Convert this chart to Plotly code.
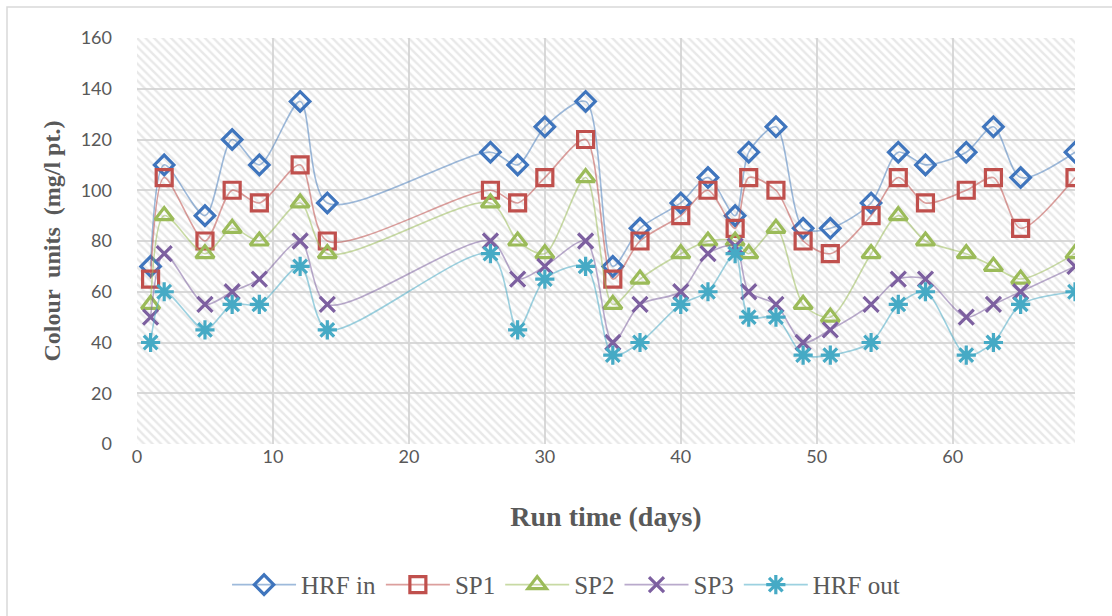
import plotly.graph_objects as go

# Sampling days
days = [1, 2, 5, 7, 9, 12, 14, 26, 28, 30, 33, 35, 37, 40, 42, 44, 45, 47, 49, 51, 54, 56, 58, 61, 63, 65, 69]

# Colour units (mg/l pt.) at each stage
hrf_in = [70, 110, 90, 120, 110, 135, 95, 115, 110, 125, 135, 70, 85, 95, 105, 90, 115, 125, 85, 85, 95, 115, 110, 115, 125, 105, 115]
sp1 = [65, 105, 80, 100, 95, 110, 80, 100, 95, 105, 120, 65, 80, 90, 100, 85, 105, 100, 80, 75, 90, 105, 95, 100, 105, 85, 105]
sp2 = [55, 90, 75, 85, 80, 95, 75, 95, 80, 75, 105, 55, 65, 75, 80, 80, 75, 85, 55, 50, 75, 90, 80, 75, 70, 65, 75]
sp3 = [50, 75, 55, 60, 65, 80, 55, 80, 65, 70, 80, 40, 55, 60, 75, 78, 60, 55, 40, 45, 55, 65, 65, 50, 55, 60, 70]
hrf_out = [40, 60, 45, 55, 55, 70, 45, 75, 45, 65, 70, 35, 40, 55, 60, 75, 50, 50, 35, 35, 40, 55, 60, 35, 40, 55, 60]

x_range = [0, 69]
y_range = [0, 160]
x_ticks = [0, 10, 20, 30, 40, 50, 60]
y_ticks = [0, 20, 40, 60, 80, 100, 120, 140, 160]

series = [
    ("HRF in", hrf_in, "#3f75bd", "rgba(79,129,189,0.55)", "diamond-open", 15),
    ("SP1", sp1, "#c0504d", "rgba(192,80,77,0.55)", "square-open", 16),
    ("SP2", sp2, "#9bbb59", "rgba(155,187,89,0.55)", "triangle-up-open", 16),
    ("SP3", sp3, "#7d60a0", "rgba(128,100,162,0.55)", "x-thin-open", 15),
    ("HRF out", hrf_out, "#46aac5", "rgba(75,172,198,0.55)", "asterisk-open", 16),
]

fig = go.Figure()

# Hatched plot-area background
fig.add_trace(go.Scatter(
    x=[x_range[0], x_range[1], x_range[1], x_range[0], x_range[0]],
    y=[y_range[0], y_range[0], y_range[1], y_range[1], y_range[0]],
    mode="lines", line=dict(width=0), fill="toself",
    fillcolor="rgba(0,0,0,0)",
    fillpattern=dict(shape="\\", size=6, solidity=0.4, fgcolor="#d2d2d2",
                     bgcolor="rgba(0,0,0,0)"),
    hoverinfo="skip", showlegend=False,
))

for name, vals, mcol, lcol, sym, size in series:
    fig.add_trace(go.Scatter(
        x=days, y=vals, name=name, mode="lines+markers",
        line=dict(color=lcol, width=1.6, shape="spline", smoothing=0.8),
        marker=dict(symbol=sym, size=size, color=mcol,
                    line=dict(color=mcol, width=3.2)),
    ))

axis_font = dict(family="Lato, Noto Sans, sans-serif", size=18, color="#595959")
serif = "Liberation Serif, Times New Roman, serif"

fig.update_layout(
    width=1112, height=616,
    margin=dict(l=137, r=37, t=38, b=172, autoexpand=False),
    paper_bgcolor="white", plot_bgcolor="white",
    showlegend=True,
    legend=dict(orientation="h", x=0.096, xanchor="left", y=-0.347, yanchor="middle",
                font=dict(family=serif, size=25, color="#595959"),
                itemwidth=64, tracegroupgap=0),
    xaxis=dict(range=x_range, tickvals=x_ticks, showgrid=True, gridcolor="#d9d9d9", gridwidth=2,
               zeroline=False, showline=False, tickfont=axis_font, ticks="", automargin=False,
               title=dict(text="<b>Run time (days)</b>", font=dict(family=serif, size=28, color="#595959"),
                          standoff=40)),
    yaxis=dict(range=y_range, tickvals=y_ticks, showgrid=True, gridcolor="#d9d9d9", gridwidth=2,
               zeroline=False, showline=False, tickfont=axis_font, ticks="", ticklabelstandoff=24,
               automargin=False,
               title=dict(text="<b>Colour  units  (mg/l pt.)</b>", font=dict(family=serif, size=24, color="#595959"),
                          standoff=13)),
)

# Outer chart border
fig.add_shape(type="rect", xref="paper", yref="paper",
              x0=-130 / 938, x1=1.2, y0=-1.0, y1=1 + 31 / 406,
              line=dict(color="#d9d9d9", width=1.5), fillcolor="rgba(0,0,0,0)", layer="below")

fig.write_html("out.html")
